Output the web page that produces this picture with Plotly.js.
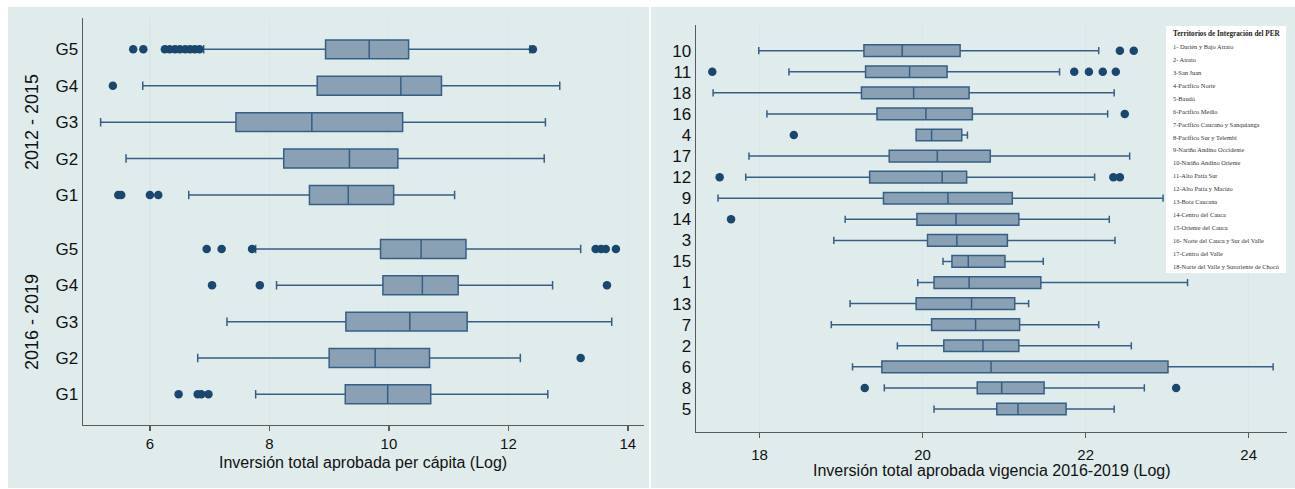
<!DOCTYPE html>
<html>
<head>
<meta charset="utf-8">
<script src="https://cdn.plot.ly/plotly-3.0.1.min.js"></script>
<style>html,body{margin:0;padding:0;background:#fff;}#chart{width:1295px;height:489px;}</style>
</head>
<body>
<div id="chart"></div>
<script>
// ---------- DATA: left panel (per capita, log) ----------
const groups = ['G1', 'G2', 'G3', 'G4', 'G5'];
const periodA = '2012 - 2015';
const periodB = '2016 - 2019';

const a_lower  = [6.65, 5.60, 5.175, 5.88, 6.90];
const a_q1     = [8.67, 8.24, 7.44, 8.80, 8.94];
const a_median = [9.32, 9.34, 8.71, 10.20, 9.67];
const a_q3     = [10.08, 10.15, 10.23, 10.88, 10.33];
const a_upper  = [11.10, 12.60, 12.62, 12.86, 12.36];
const a_outX   = [5.47, 5.52, 6.00, 6.14, 5.38, 5.72, 5.89, 6.25, 6.33, 6.42, 6.50, 6.59, 6.67, 6.75, 6.83, 12.41];
const a_outG   = ['G1', 'G1', 'G1', 'G1', 'G4', 'G5', 'G5', 'G5', 'G5', 'G5', 'G5', 'G5', 'G5', 'G5', 'G5', 'G5'];

const b_lower  = [7.77, 6.80, 7.29, 8.12, 7.77];
const b_q1     = [9.27, 9.00, 9.28, 9.90, 9.86];
const b_median = [9.98, 9.77, 10.35, 10.56, 10.54];
const b_q3     = [10.70, 10.68, 11.31, 11.16, 11.29];
const b_upper  = [12.66, 12.20, 13.73, 12.74, 13.21];
const b_outX   = [6.48, 6.80, 6.86, 6.98, 13.21, 7.04, 7.84, 13.65, 6.95, 7.20, 7.71, 13.46, 13.55, 13.63, 13.80];
const b_outG   = ['G1', 'G1', 'G1', 'G1', 'G2', 'G4', 'G4', 'G4', 'G5', 'G5', 'G5', 'G5', 'G5', 'G5', 'G5'];

// ---------- DATA: right panel (total 2016-2019, log) ----------
const territories = ['5', '8', '6', '2', '7', '13', '1', '15', '3', '14', '9', '12', '17', '4', '16', '18', '11', '10'];
const t_lower  = [20.14, 19.53, 19.14, 19.69, 18.88, 19.11, 19.94, 20.25, 18.91, 19.05, 17.49, 17.83, 17.87, 19.92, 18.09, 17.43, 18.36, 17.99];
const t_q1     = [20.91, 20.67, 19.50, 20.26, 20.11, 19.92, 20.14, 20.36, 20.06, 19.93, 19.52, 19.35, 19.59, 19.92, 19.44, 19.25, 19.30, 19.28];
const t_median = [21.17, 20.97, 20.84, 20.74, 20.65, 20.60, 20.57, 20.56, 20.42, 20.41, 20.31, 20.24, 20.18, 20.11, 20.04, 19.89, 19.84, 19.75];
const t_q3     = [21.76, 21.49, 23.01, 21.18, 21.19, 21.13, 21.45, 21.01, 21.04, 21.18, 21.10, 20.54, 20.83, 20.48, 20.61, 20.57, 20.30, 20.46];
const t_upper  = [22.35, 22.72, 24.30, 22.56, 22.16, 21.30, 23.25, 21.48, 22.36, 22.29, 22.95, 22.11, 22.54, 20.55, 22.27, 22.35, 21.68, 22.16];
const t_outX   = [19.29, 23.11, 17.65, 17.51, 22.34, 22.42, 18.42, 22.48, 17.42, 21.86, 22.04, 22.21, 22.37, 22.42, 22.59];
const t_outT   = ['8', '8', '14', '12', '12', '12', '4', '16', '11', '11', '11', '11', '11', '10', '10'];

const leftTitle  = 'Inversión total aprobada per cápita (Log)';
const rightTitle = 'Inversión total aprobada vigencia 2016-2019 (Log)';
const legendTitle = 'Territorios de Integración del PER';
const legendLines = [
  '1- Darién y Bajo Atrato', '2- Atrato', '3-San Juan', '4-Pacífico Norte', '5-Baudó',
  '6-Pacífico Medio', '7-Pacífico Caucano y Sanquianga', '8-Pacífico Sur y Telembí',
  '9-Nariño Andino Occidente', '10-Nariño Andino Oriente', '11-Alto Patía Sur',
  '12-Alto Patía y Macizo', '13-Bota Caucana', '14-Centro del Cauca', '15-Oriente del Cauca',
  '16- Norte del Cauca y Sur del Valle', '17-Centro del Valle', '18-Norte del Valle y Suroriente de Chocó'
];

// ---------- STYLE / LAYOUT ----------
const W = 1295, H = 489;
const px = v => v / W;
const py = v => 1 - v / H;

const BOX_FILL = '#8aa1b5';
const BOX_LINE = '#365f85';
const DOT = '#1a476f';
const PANEL = '#e0ecec';
const GRID = '#dae7e9';
const AXIS = '#5a5a5a';
const SANS = 'Liberation Sans, Arial, Helvetica, sans-serif';
const SERIF = 'Liberation Serif, DejaVu Serif, serif';

function boxTrace(cats, lo, q1, med, q3, hi, xa, ya, w, ww) {
  return {
    type: 'box', orientation: 'h', y: cats,
    q1: q1, median: med, q3: q3, lowerfence: lo, upperfence: hi,
    boxpoints: false, width: w, whiskerwidth: ww,
    fillcolor: BOX_FILL, line: {color: BOX_LINE, width: 1.5},
    xaxis: xa, yaxis: ya, showlegend: false, hoverinfo: 'skip'
  };
}
function dotTrace(xs, cats, xa, ya) {
  return {
    type: 'scatter', mode: 'markers', x: xs, y: cats,
    marker: {color: DOT, size: 8.5, line: {width: 0}},
    xaxis: xa, yaxis: ya, showlegend: false, hoverinfo: 'skip'
  };
}

const data = [
  boxTrace(groups, a_lower, a_q1, a_median, a_q3, a_upper, 'x', 'y', 0.52, 0.45),
  dotTrace(a_outX, a_outG, 'x', 'y'),
  boxTrace(groups, b_lower, b_q1, b_median, b_q3, b_upper, 'x', 'y2', 0.52, 0.45),
  dotTrace(b_outX, b_outG, 'x', 'y2'),
  boxTrace(territories, t_lower, t_q1, t_median, t_q3, t_upper, 'x3', 'y3', 0.555, 0.62),
  dotTrace(t_outX, t_outT, 'x3', 'y3')
];

const xBase = {
  showgrid: true, gridcolor: GRID, gridwidth: 1.2, zeroline: false,
  showline: true, linecolor: AXIS, linewidth: 1.4,
  ticks: 'outside', ticklen: 5, tickwidth: 1.3, tickcolor: AXIS,
  tickfont: {family: SANS, size: 15, color: '#111'}, dtick: 2
};
const yBase = {
  type: 'category', categoryorder: 'array', showgrid: false, zeroline: false,
  showline: true, linecolor: AXIS, linewidth: 1.4, ticks: '',
  ticklabelstandoff: 0,
  tickfont: {family: SANS, size: 17, color: '#111'}
};

const annotations = [
  {text: periodA, x: px(32), y: py(122), xref: 'paper', yref: 'paper', textangle: -90, showarrow: false,
   font: {family: SANS, size: 18, color: '#111'}, xanchor: 'center', yanchor: 'middle'},
  {text: periodB, x: px(32), y: py(322), xref: 'paper', yref: 'paper', textangle: -90, showarrow: false,
   font: {family: SANS, size: 18, color: '#111'}, xanchor: 'center', yanchor: 'middle'},
  {text: leftTitle, x: px(363), y: py(462), xref: 'paper', yref: 'paper', showarrow: false,
   font: {family: SANS, size: 16, color: '#111'}, xanchor: 'center', yanchor: 'middle'},
  {text: rightTitle, x: px(992), y: py(470), xref: 'paper', yref: 'paper', showarrow: false,
   font: {family: SANS, size: 16, color: '#111'}, xanchor: 'center', yanchor: 'middle'},
  {text: '<b>' + legendTitle + '</b>', x: px(1171), y: py(34), xref: 'paper', yref: 'paper', showarrow: false,
   font: {family: SERIF, size: 7.2, color: '#222'}, xanchor: 'left', yanchor: 'middle'}
];
legendLines.forEach((t, i) => {
  annotations.push({text: t, x: px(1171), y: py(46.7 + i * 12.9), xref: 'paper', yref: 'paper', showarrow: false,
    font: {family: SERIF, size: 6.4, color: '#333'}, xanchor: 'left', yanchor: 'middle'});
});

const layout = {
  width: W, height: H,
  margin: {l: 0, r: 0, t: 0, b: 0, pad: 0},
  paper_bgcolor: '#ffffff', plot_bgcolor: '#ffffff',
  showlegend: false,
  xaxis: Object.assign({}, xBase, {domain: [px(83), px(644)], range: [4.88, 14.27], anchor: 'y2'}),
  yaxis: Object.assign({}, yBase, {domain: [py(222), py(18)], categoryarray: groups, range: [-0.743, 4.861], anchor: 'x'}),
  yaxis2: Object.assign({}, yBase, {domain: [py(425), py(222)], categoryarray: groups, range: [-0.845, 4.743], anchor: 'x'}),
  xaxis3: Object.assign({}, xBase, {domain: [px(696), px(1287)], range: [17.22, 24.47], anchor: 'y3', ticklabelstandoff: 4}),
  yaxis3: Object.assign({}, yBase, {domain: [py(432), py(25)], categoryarray: territories, range: [-1.091, 18.219], anchor: 'x3'}),
  shapes: [
    {type: 'rect', xref: 'paper', yref: 'paper', x0: px(8), x1: px(649), y0: py(488), y1: py(7),
     fillcolor: PANEL, line: {width: 0}, layer: 'below'},
    {type: 'rect', xref: 'paper', yref: 'paper', x0: px(651), x1: px(1295), y0: py(488), y1: py(7),
     fillcolor: PANEL, line: {width: 0}, layer: 'below'},
    {type: 'rect', xref: 'paper', yref: 'paper', x0: px(1166), x1: px(1286), y0: py(273), y1: py(26),
     fillcolor: '#ffffff', line: {width: 0}, layer: 'above'}
  ],
  annotations: annotations
};

Plotly.newPlot('chart', data, layout, {displayModeBar: false, staticPlot: true});
</script>
</body>
</html>
